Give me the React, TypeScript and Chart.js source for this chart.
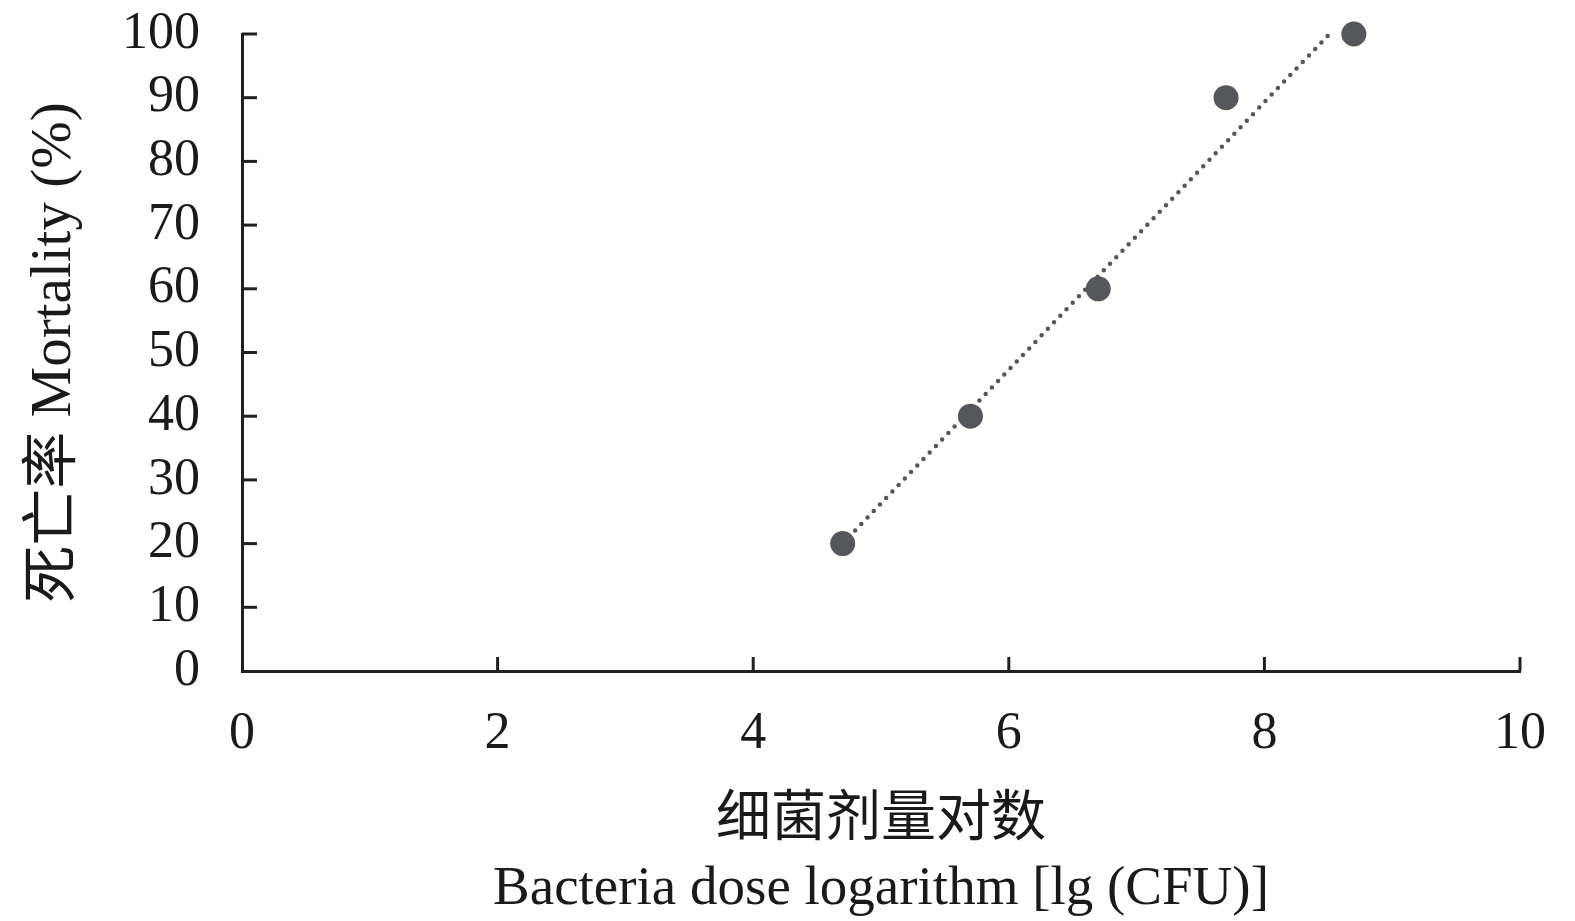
import React, { useEffect, useRef } from "react";
import { Chart, registerables } from "chart.js";

Chart.register(...registerables);

const doseLog = [4.7, 5.7, 6.7, 7.7, 8.7];
const mortality = [20, 40, 60, 90, 100];
const trendX = [4.7, 8.51];
const trendY = [20, 100];
const xTicks = [0, 2, 4, 6, 8, 10];
const yTicks = [0, 10, 20, 30, 40, 50, 60, 70, 80, 90, 100];
const xTitle = ["细菌剂量对数", "Bacteria dose logarithm [lg (CFU)]"];
const yTitle = "死亡率 Mortality (%)";

const FONT = "'Liberation Serif', 'Noto Sans CJK SC', serif";
const AXIS = "#231f20";
const MARK = "#56575c";
const TEXT = "#1a1a1a";

const innerTicks = {
  id: "innerTicks",
  afterDatasetsDraw(chart: any) {
    const { ctx } = chart;
    const xs = chart.scales.x;
    const ys = chart.scales.y;
    ctx.save();
    ctx.strokeStyle = AXIS;
    ctx.lineWidth = 3;
    const bottom = ys.getPixelForValue(0);
    const left = xs.getPixelForValue(0);
    xTicks.slice(1).forEach((v) => {
      const px = xs.getPixelForValue(v);
      ctx.beginPath();
      ctx.moveTo(px, bottom);
      ctx.lineTo(px, bottom - 14);
      ctx.stroke();
    });
    yTicks.slice(1).forEach((v) => {
      const py = ys.getPixelForValue(v);
      ctx.beginPath();
      ctx.moveTo(left, py);
      ctx.lineTo(left + 15, py);
      ctx.stroke();
    });
    ctx.restore();
  },
};

export default function App() {
  const ref = useRef<HTMLCanvasElement>(null);
  useEffect(() => {
    if (!ref.current) return;
    const chart = new Chart(ref.current, {
      type: "scatter",
      data: {
        datasets: [
          {
            label: "points",
            data: doseLog.map((x, i) => ({ x, y: mortality[i] })),
            backgroundColor: MARK,
            borderColor: MARK,
            pointRadius: 12.5,
            pointBorderWidth: 0,
            clip: false as any,
          },
          {
            label: "trend",
            data: trendX.map((x, i) => ({ x, y: trendY[i] })),
            showLine: true,
            borderColor: MARK,
            borderWidth: 4.5,
            borderDash: [0, 9],
            borderCapStyle: "round",
            pointRadius: 0,
            clip: false as any,
          },
        ],
      },
      options: {
        responsive: false,
        animation: false,
        events: [],
        layout: { padding: { left: 0, top: 34, right: 55, bottom: 0 } },
        plugins: { legend: { display: false }, tooltip: { enabled: false } },
        scales: {
          x: {
            type: "linear",
            min: 0,
            max: 10,
            afterFit: (s: any) => {
              s.height = 250;
              s.paddingLeft = 0;
              s.paddingRight = 0;
              s.paddingTop = 0;
              s.paddingBottom = 0;
            },
            afterBuildTicks: (s: any) => {
              s.ticks = xTicks.map((v) => ({ value: v }));
            },
            grid: { display: false, drawTicks: false },
            border: { display: true, color: AXIS, width: 3 },
            ticks: {
              padding: 32,
              color: TEXT,
              autoSkip: false,
              font: { family: FONT, size: 52 },
              maxRotation: 0,
            },
            title: {
              display: true,
              text: xTitle,
              color: TEXT,
              font: { family: FONT, size: 55, lineHeight: 1.2545 },
              padding: { top: 0, bottom: -3.5 },
            },
          },
          y: {
            type: "linear",
            min: 0,
            max: 100,
            afterFit: (s: any) => {
              s.width = 242;
              s.paddingLeft = 0;
              s.paddingRight = 0;
              s.paddingTop = 0;
              s.paddingBottom = 0;
            },
            afterBuildTicks: (s: any) => {
              s.ticks = yTicks.map((v) => ({ value: v }));
            },
            grid: { display: false, drawTicks: false },
            border: { display: true, color: AXIS, width: 3 },
            ticks: {
              padding: 42,
              color: TEXT,
              autoSkip: false,
              font: { family: FONT, size: 52 },
            },
            title: {
              display: true,
              text: yTitle,
              color: TEXT,
              font: { family: FONT, size: 57, lineHeight: 1.2 },
              padding: { top: 21, bottom: 0 },
            },
          },
        },
      },
      plugins: [innerTicks],
    } as any);
    return () => chart.destroy();
  }, []);
  return (
    <div style={{ position: "absolute", left: 0, top: 0, width: 1575, height: 921, background: "#fff" }}>
      <canvas ref={ref} width={1575} height={921} style={{ width: 1575, height: 921 }} />
    </div>
  );
}
